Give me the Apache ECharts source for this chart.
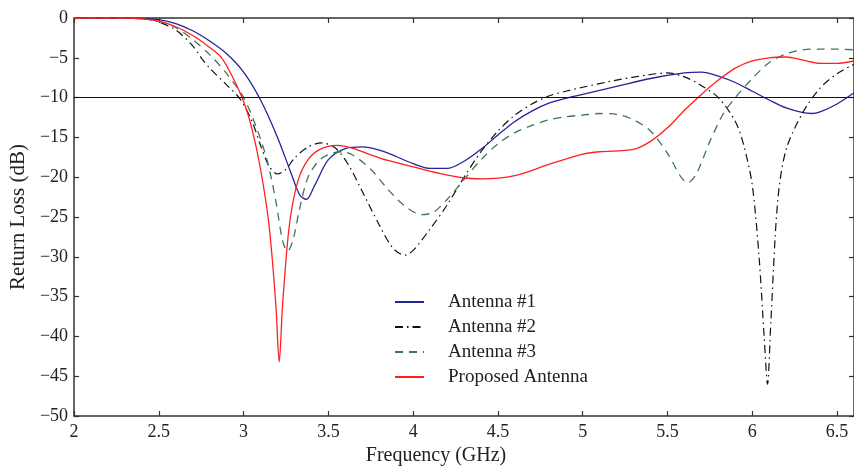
<!DOCTYPE html>
<html>
<head>
<meta charset="utf-8">
<script src="https://cdn.jsdelivr.net/npm/echarts@6/dist/echarts.min.js"></script>
<style>
html, body { margin: 0; padding: 0; background: #fff; }
#chart { width: 854px; height: 471px; }
</style>
</head>
<body>
<div id="chart"></div>
<script>
// 数据 (Frequency GHz, Return Loss dB)
let seriesNames = ['Antenna #1', 'Antenna #2', 'Antenna #3', 'Proposed Antenna'];

let antenna1 = [
    [2, 0], [2.3, 0], [2.5, -0.2], [2.6, -0.7], [2.7, -1.6], [2.8, -2.9], [2.9, -4.5],
    [3.0, -6.8], [3.1, -10.3], [3.2, -15], [3.28, -19.5], [3.33, -22.2], [3.37, -22.8],
    [3.42, -21], [3.5, -17.8], [3.6, -16.4], [3.7, -16.2], [3.8, -16.6], [3.9, -17.4],
    [4.0, -18.3], [4.1, -18.9], [4.2, -18.9], [4.3, -18], [4.4, -16.5], [4.5, -14.7],
    [4.6, -13], [4.7, -11.7], [4.8, -10.7], [4.9, -10.1], [5.0, -9.6], [5.2, -8.6],
    [5.4, -7.6], [5.6, -6.9], [5.7, -6.8], [5.8, -7.3], [5.9, -8.1], [6.0, -9.2],
    [6.1, -10.3], [6.2, -11.3], [6.3, -11.9], [6.35, -12], [6.4, -11.8], [6.5, -10.8], [6.6, -9.4]
];

let antenna2 = [
    [2, 0], [2.3, 0], [2.45, -0.2], [2.5, -0.5], [2.6, -1.5], [2.7, -3.5], [2.75, -5],
    [2.8, -6.3], [2.9, -8.4], [2.98, -10.2], [3.05, -13], [3.1, -16], [3.15, -18.6],
    [3.2, -19.6], [3.25, -19], [3.3, -17.6], [3.38, -16.2], [3.46, -15.7], [3.54, -16.3],
    [3.62, -18.5], [3.7, -21.8], [3.8, -26], [3.88, -28.9], [3.95, -29.8], [4.0, -29.2],
    [4.1, -26.5], [4.2, -23.5], [4.3, -20], [4.4, -16.8], [4.5, -14.2], [4.6, -12.2],
    [4.7, -10.8], [4.8, -9.8], [4.9, -9.2], [5.0, -8.7], [5.2, -7.8], [5.4, -7.1],
    [5.5, -6.9], [5.6, -7.4], [5.7, -8.5], [5.8, -10], [5.9, -13], [5.95, -16], [6.0, -21],
    [6.04, -30], [6.07, -40], [6.09, -46], [6.11, -38], [6.15, -23], [6.2, -16.5],
    [6.3, -11.8], [6.4, -8.8], [6.5, -7], [6.6, -5.8]
];

let antenna3 = [
    [2, 0], [2.3, 0], [2.45, -0.2], [2.5, -0.4], [2.6, -1.2], [2.7, -2.7], [2.8, -4.6],
    [2.9, -7], [3.0, -10], [3.08, -14], [3.14, -18], [3.19, -23], [3.23, -28], [3.26, -29.3],
    [3.29, -28], [3.33, -24], [3.38, -20], [3.45, -17.8], [3.52, -17], [3.58, -16.8],
    [3.65, -17.3], [3.75, -19], [3.85, -21.5], [3.95, -23.6], [4.05, -24.7], [4.12, -24.4],
    [4.2, -22.8], [4.3, -20.3], [4.4, -17.8], [4.5, -15.8], [4.6, -14.4], [4.7, -13.5],
    [4.8, -12.8], [4.9, -12.4], [5.0, -12.2], [5.1, -12.0], [5.2, -12.1], [5.3, -12.8],
    [5.4, -14.2], [5.5, -17], [5.58, -20], [5.62, -20.7], [5.67, -19.6], [5.75, -15.5],
    [5.83, -12], [5.9, -10], [6.0, -7.6], [6.1, -5.6], [6.2, -4.5], [6.3, -4.0],
    [6.4, -3.9], [6.5, -3.9], [6.6, -4.0]
];

let proposed = [
    [2, 0], [2.3, 0], [2.4, -0.1], [2.5, -0.4], [2.6, -1.1], [2.7, -2.2], [2.8, -3.7],
    [2.87, -5], [2.93, -7.2], [3.0, -10.5], [3.05, -14], [3.1, -19], [3.15, -26],
    [3.19, -36], [3.21, -43.2], [3.23, -36], [3.27, -26], [3.32, -20.5], [3.38, -17.8],
    [3.45, -16.5], [3.55, -16], [3.65, -16.4], [3.75, -17.2], [3.85, -17.9], [4.0, -18.7],
    [4.15, -19.5], [4.3, -20.1], [4.4, -20.2], [4.6, -19.8], [4.8, -18.4], [5.0, -17.1],
    [5.1, -16.8], [5.3, -16.5], [5.4, -15.5], [5.5, -13.8], [5.6, -11.6], [5.7, -9.6],
    [5.8, -7.8], [5.9, -6.3], [6.0, -5.4], [6.1, -5], [6.2, -4.9], [6.3, -5.3],
    [6.4, -5.7], [6.5, -5.7], [6.6, -5.4]
];

let refLevel = -10;

let fontFamily = '"Liberation Serif", "DejaVu Serif", serif';
let axisColor = '#333';
let textColor = '#222';

function minusFmt(v) {
    return String(v).replace('-', '\u2212');
}

let baseX = {
    type: 'value',
    min: 2,
    max: 6.6,
    interval: 0.5,
    splitLine: { show: false },
    axisLine: { show: true, onZero: false, lineStyle: { color: axisColor, width: 1.5 } },
    axisTick: { show: true, inside: true, length: 5, lineStyle: { color: axisColor, width: 1.2 } }
};

let baseY = {
    type: 'value',
    min: -50,
    max: 0,
    interval: 5,
    splitLine: { show: false },
    axisLine: { show: true, onZero: false, lineStyle: { color: axisColor, width: 1.5 } },
    axisTick: { show: true, inside: true, length: 5, lineStyle: { color: axisColor, width: 1.2 } }
};

let option = {
    backgroundColor: '#fff',
    animation: false,
    textStyle: { fontFamily: fontFamily },
    grid: { left: 72, top: 18, right: 0, bottom: 55 },
    legend: {
        orient: 'vertical',
        left: 389,
        top: 287,
        itemGap: 5,
        itemWidth: 29,
        itemHeight: 14,
        itemStyle: { opacity: 0 },
        textStyle: { fontFamily: fontFamily, fontSize: 19, lineHeight: 20, color: textColor, padding: [0, 0, 0, 19] },
        data: seriesNames
    },
    xAxis: [
        Object.assign({}, baseX, {
            position: 'bottom',
            name: 'Frequency (GHz)',
            nameLocation: 'middle',
            nameGap: 29,
            nameTextStyle: { fontFamily: fontFamily, fontSize: 20, color: textColor, padding: [0, 56, 0, 0] },
            axisLabel: { show: true, fontSize: 18, color: textColor, margin: 7, showMaxLabel: false, formatter: minusFmt }
        }),
        Object.assign({}, baseX, { position: 'top', axisLabel: { show: false } })
    ],
    yAxis: [
        Object.assign({}, baseY, {
            position: 'left',
            name: 'Return Loss (dB)',
            nameLocation: 'middle',
            nameGap: 35,
            nameTextStyle: { fontFamily: fontFamily, fontSize: 21, color: textColor },
            axisLabel: { show: true, fontSize: 18, color: textColor, margin: 6, formatter: minusFmt }
        }),
        Object.assign({}, baseY, { position: 'right', axisLabel: { show: false } })
    ],
    series: [
        {
            name: seriesNames[0],
            type: 'line',
            data: antenna1,
            smooth: 0.3,
            symbol: 'none',
            lineStyle: { color: '#24249a', width: 1.3 },
            itemStyle: { color: '#24249a' },
            markLine: {
                silent: true,
                symbol: 'none',
                label: { show: false },
                lineStyle: { color: '#111', width: 1.2, type: 'solid' },
                data: [{ yAxis: refLevel }]
            }
        },
        {
            name: seriesNames[1],
            type: 'line',
            data: antenna2,
            smooth: 0.3,
            symbol: 'none',
            lineStyle: { color: '#111', width: 1.2, type: [8, 4, 1.5, 4] },
            itemStyle: { color: '#111' }
        },
        {
            name: seriesNames[2],
            type: 'line',
            data: antenna3,
            smooth: 0.3,
            symbol: 'none',
            lineStyle: { color: '#3f7658', width: 1.3, type: [8, 6] },
            itemStyle: { color: '#3f7658' }
        },
        {
            name: seriesNames[3],
            type: 'line',
            data: proposed,
            smooth: 0.3,
            symbol: 'none',
            lineStyle: { color: '#ff1f1f', width: 1.3 },
            itemStyle: { color: '#ff1f1f' }
        }
    ]
};

var dom = document.getElementById('chart');
var myChart = echarts.init(dom);
myChart.setOption(option, true);
</script>
</body>
</html>
